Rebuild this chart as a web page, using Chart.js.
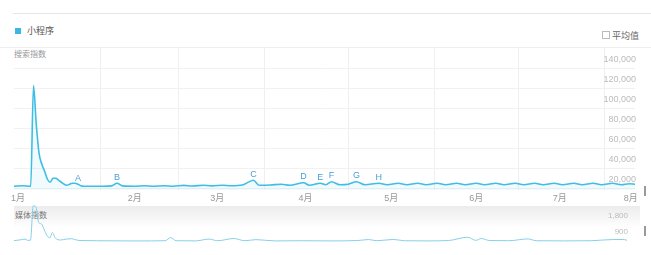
<!DOCTYPE html>
<html>
<head>
<meta charset="utf-8">
<script src="https://cdn.jsdelivr.net/npm/chart.js@4/dist/chart.umd.min.js"></script>
<style>
  body { margin: 0; background: #fff; font-family: 'Liberation Sans', 'Noto Sans CJK SC', sans-serif; }
  #wrap { position: relative; width: 651px; height: 255px; overflow: hidden; }
  .abs { position: absolute; }
  canvas { position: absolute; left: 0; }
</style>
</head>
<body>
<div id="wrap">
  <div class="abs" style="left:13px;top:13px;width:638px;height:1px;background:#e6e6e6"></div>
  <div class="abs" style="left:15px;top:28px;width:6px;height:6px;background:#3cb6e2"></div>
  <div class="abs" style="left:27px;top:24px;font-size:9px;color:#555">小程序</div>
  <div class="abs" style="left:602px;top:31px;width:6px;height:6px;border:1px solid #bbb"></div>
  <div class="abs" style="left:612px;top:29px;font-size:9px;color:#666">平均值</div>
  <div class="abs" style="left:0;top:47px;width:651px;height:1px;background:#efefef"></div>
  <div class="abs" style="left:14px;top:48px;font-size:8px;color:#999">搜索指数</div>
  <div class="abs" style="left:14px;top:206px;width:626px;height:22px;background:linear-gradient(#ececec,#fff)"></div>
  <div class="abs" style="left:15px;top:209px;font-size:8px;color:#777">媒体指数</div>
  <div class="abs" style="left:644px;top:186px;width:2px;height:10px;background:#999"></div>
  <div class="abs" style="left:644px;top:226px;width:2px;height:10px;background:#999"></div>
  <canvas id="searchChart" width="651" height="207" style="top:0"></canvas>
  <canvas id="mediaChart" width="651" height="56" style="top:198px"></canvas>
</div>
<script>
// x axis is in days counted from 1月1日
const monthNames = ['1月', '2月', '3月', '4月', '5月', '6月', '7月', '8月'];
const monthLabelDays = [1.4, 43.4, 73, 104.7, 135.5, 166, 196, 221.5];
const monthStartDays = [31, 59, 90, 120, 151, 181, 212];
const dayMax = 223;

// 搜索指数
const searchTicks = [20000, 40000, 60000, 80000, 100000, 120000, 140000];
const searchDays = [0, 3, 6, 7, 8, 9, 10, 11, 12, 13, 14, 15, 16, 17, 18, 19, 20, 21, 22, 23, 24, 25,
  28, 32, 35, 37, 39, 43, 47, 50, 54, 57, 61, 64, 68, 71, 75, 78, 82, 86, 88, 92, 96, 99,
  104, 106, 110, 112, 114, 117, 120, 123, 126, 131, 134, 138, 141, 145, 148, 152, 155, 159,
  162, 166, 169, 173, 176, 180, 183, 187, 190, 194, 197, 201, 204, 208, 211, 215, 218, 221, 223];
const searchValues = [22000, 22500, 22000, 123000, 84000, 55000, 44000, 37000, 29000, 26000, 30000, 30000,
  28000, 26000, 24000, 23000, 24000, 25000, 25000, 24000, 22500, 22000,
  22000, 22000, 22300, 25000, 22300, 22000, 22500, 22000, 22500, 22000, 22800, 22200, 23000, 22300,
  23000, 22500, 23200, 28000, 23000, 23200, 24000, 23000,
  25500, 23000, 25000, 23500, 26500, 23500, 24000, 26500, 23500, 25000, 23500, 25000, 23500, 25000,
  23500, 25000, 23500, 25000, 23500, 25000, 23500, 25000, 23500, 25000, 23500, 25000, 23500, 25000,
  23500, 25000, 23500, 25000, 23500, 25000, 23500, 24500, 24000];

// 事件标记
const eventDays = [23, 37, 86, 104, 110, 114, 123, 131];
const eventLetters = ['A', 'B', 'C', 'D', 'E', 'F', 'G', 'H'];

// 媒体指数
const mediaTicks = [900, 1800];
const mediaDays = [0, 2, 4, 5, 6, 7, 8, 9, 10, 11, 12, 13, 14, 15, 16, 17, 19, 21, 22, 24,
  30, 40, 50, 55, 57, 59, 66, 71, 74, 80, 84, 88, 95, 105, 115, 125, 129, 132, 138, 142, 150,
  158, 165, 168, 170, 173, 180, 187, 190, 200, 210, 218, 222, 223];
const mediaValues = [420, 450, 500, 430, 440, 2330, 2250, 1400, 1330, 1005, 700, 560, 850, 560, 470,
  450, 500, 520, 480, 420,
  410, 400, 400, 410, 580, 410, 400, 500, 410, 530, 410, 470, 400, 410, 400, 420, 475, 410, 480, 410, 400,
  420, 600, 430, 530, 420, 410, 510, 410, 400, 410, 475, 475, 430];

const fontFamily = "'Liberation Sans', 'Noto Sans CJK SC', sans-serif";

function toPoints(days, values) {
    return days.map((d, i) => ({ x: d, y: values[i] }));
}

// draws the A-H letters above the search line
const eventPlugin = {
    id: 'eventLetters',
    afterDatasetsDraw(chart) {
        const ctx = chart.ctx;
        const xs = chart.scales.x;
        const ys = chart.scales.y;
        ctx.save();
        ctx.fillStyle = '#4a9fd6';
        ctx.font = '9px ' + fontFamily;
        ctx.textAlign = 'center';
        ctx.textBaseline = 'middle';
        eventDays.forEach((day, i) => {
            const idx = searchDays.indexOf(day);
            const v = idx >= 0 ? searchValues[idx] : 24000;
            ctx.fillText(eventLetters[i], xs.getPixelForValue(day), ys.getPixelForValue(v) - 6);
        });
        ctx.restore();
    }
};

const allXTicks = monthStartDays.map(d => ({ value: d, kind: 'grid' }))
    .concat(monthLabelDays.map((d, i) => ({ value: d, kind: 'label', name: monthNames[i] })));

new Chart(document.getElementById('searchChart'), {
    type: 'line',
    data: {
        datasets: [{
            data: toPoints(searchDays, searchValues),
            borderColor: '#3ebee4',
            backgroundColor: 'rgba(62, 190, 228, 0.07)',
            borderWidth: 1.6,
            fill: 'start',
            pointRadius: 0,
            cubicInterpolationMode: 'monotone'
        }]
    },
    options: {
        responsive: false,
        animation: false,
        devicePixelRatio: 1,
        layout: { padding: { left: 14, right: 14, top: 47, bottom: 0 } },
        plugins: { legend: { display: false }, tooltip: { enabled: false } },
        scales: {
            x: {
                type: 'linear',
                min: 0,
                max: dayMax,
                afterBuildTicks: (axis) => {
                    axis.ticks = allXTicks.map(t => ({ value: t.value }));
                },
                grid: {
                    drawTicks: false,
                    color: (c) => {
                        const t = allXTicks.find(a => a.value === c.tick?.value);
                        return t && t.kind === 'grid' ? '#efefef' : 'rgba(0,0,0,0)';
                    }
                },
                border: { display: false },
                ticks: {
                    autoSkip: false,
                    maxRotation: 0,
                    padding: 3,
                    color: '#999',
                    font: { size: 9, family: fontFamily },
                    callback: (value) => {
                        const t = allXTicks.find(a => a.value === value);
                        return t && t.kind === 'label' ? t.name : '';
                    }
                }
            },
            y: {
                type: 'linear',
                position: 'right',
                min: 18000,
                max: 161800,
                afterBuildTicks: (axis) => {
                    axis.ticks = searchTicks.map(v => ({ value: v }));
                },
                grid: { color: '#f1f1f1', drawTicks: false },
                border: { display: false },
                ticks: {
                    mirror: true,
                    padding: 1,
                    labelOffset: -9,
                    color: '#bbb',
                    font: { size: 9, family: fontFamily },
                    callback: (v) => v.toLocaleString('en-US')
                }
            }
        }
    },
    plugins: [eventPlugin]
});

new Chart(document.getElementById('mediaChart'), {
    type: 'line',
    data: {
        datasets: [{
            data: toPoints(mediaDays, mediaValues),
            borderColor: '#86cfe8',
            borderWidth: 1,
            fill: false,
            pointRadius: 0,
            cubicInterpolationMode: 'monotone'
        }]
    },
    options: {
        responsive: false,
        animation: false,
        devicePixelRatio: 1,
        layout: { padding: { left: 14, right: 14, top: 0, bottom: 0 } },
        plugins: { legend: { display: false }, tooltip: { enabled: false } },
        scales: {
            x: { type: 'linear', min: 0, max: dayMax, display: false },
            y: {
                type: 'linear',
                position: 'right',
                min: 0,
                max: 2435,
                afterBuildTicks: (axis) => {
                    axis.ticks = mediaTicks.map(v => ({ value: v }));
                },
                grid: { display: false },
                border: { display: false },
                ticks: {
                    mirror: true,
                    padding: 1,
                    color: '#bbb',
                    font: { size: 8, family: fontFamily },
                    callback: (v) => v.toLocaleString('en-US')
                }
            }
        }
    }
});
</script>
</body>
</html>
